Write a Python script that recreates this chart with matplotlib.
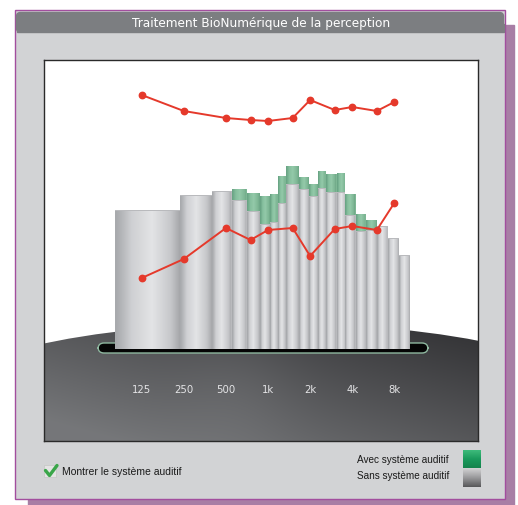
import numpy as np
import matplotlib
matplotlib.use('Agg')
import matplotlib.pyplot as plt
from matplotlib.patches import Rectangle, FancyBboxPatch, Ellipse
from matplotlib.colors import LinearSegmentedColormap
import matplotlib.transforms as mtransforms

# ---------------- data ----------------
title = 'Traitement BioNumérique de la perception'
tick_freqs = [125, 250, 500, 1000, 2000, 4000, 8000]
tick_labels = ['125', '250', '500', '1k', '2k', '4k', '8k']
curve_freqs = [125, 250, 500, 750, 1000, 1500, 2000, 3000, 4000, 6000, 8000]
tres_fort = [127, 119, 115.5, 114.5, 114, 115.5, 124.5, 119.5, 121, 119, 123.5]
seuil = [35.5, 45, 60.5, 54.5, 59.5, 60.5, 46.5, 60, 61.5, 59.5, 73]
band_edges = [80, 235, 400, 555, 710, 880, 1040, 1185, 1350, 1675, 1975, 2295,
              2615, 3090, 3580, 4225, 4980, 5975, 7160, 8590, 10300]
sans_systeme = [69.5, 77, 79, 74.5, 69, 62.5, 63.5, 73, 82.5, 80, 76.5, 80.5,
                78.5, 78.5, 67, 59, 59.5, 61.5, 55.5, 47]
avec_systeme = [69.5, 77, 79, 80, 78, 76.5, 77.5, 86.5, 91.5, 86, 82.5, 89,
                87.5, 88, 77.5, 67.5, 64.5, 61.5, 55.5, 47]
label_loud = 'Très fort'
label_threshold = 'Votre seuil\nauditif'
legend_labels = ['Avec système auditif', 'Sans système auditif']
checkbox_label = 'Montrer le système auditif'

# ---------------- figure ----------------
W, H = 518, 506
fig = plt.figure(figsize=(W / 100, H / 100), dpi=100)
fig.patch.set_facecolor('white')
bg = fig.add_axes([0, 0, 1, 1])
bg.set_xlim(0, W); bg.set_ylim(H, 0); bg.axis('off')
bg.set_autoscale_on(False)

# shadow + panel
bg.add_patch(Rectangle((28, 26), 486, 480, color='#a87ea5', zorder=0))
bg.add_patch(Rectangle((14.5, 10.5), 490, 489, facecolor='#d2d3d5',
                       edgecolor='#a24e9e', lw=1, zorder=1))
bg.add_patch(FancyBboxPatch((16.5, 13.5), 487, 19.5,
                            boxstyle='round,pad=0,rounding_size=4',
                            color='#7c7e81', zorder=2))
bg.add_patch(Rectangle((16.5, 25), 487, 8, color='#7c7e81', zorder=2))
bg.text(261, 23.5, title, color='white', fontsize=8.7, ha='center',
        va='center', family='DejaVu Sans', zorder=3)

# ---------------- plot axes ----------------
L, R, T, B = 44, 478, 61, 442
ax = fig.add_axes([L / W, (H - B) / H, (R - L) / W, (B - T) / H])
ax.set_xscale('log', base=2)
xlim = (25.0, 31740)
ylim = (-46, 144.5)
ax.set_xlim(*xlim); ax.set_ylim(*ylim)
ax.set_autoscale_on(False)
ax.set_facecolor('white')
for s in ax.spines.values():
    s.set_color('#2a2a2a'); s.set_linewidth(1.0)
ax.set_xticks([]); ax.set_yticks([])
ax.minorticks_off()
ax.tick_params(which='both', length=0, labelbottom=False, labelleft=False)

px = bg.transData  # pixel coordinates for decoration

# dark platform
ell = Ellipse((268, 404), 670, 160, transform=px, facecolor='none',
              edgecolor='none')
ax.add_patch(ell)
gy, gx = np.mgrid[0:1:200j, 0:1:300j]
t = np.clip(0.55 * (1 - gx) + 0.6 * gy - 0.05, 0, 1)
sheen = np.exp(-((gx - 0.45) ** 2) / 0.02 - ((gy - 0.55) ** 2) / 0.3) * 0.12
t = np.clip(t + sheen, 0, 1)
dark = np.array([0.19, 0.19, 0.20]); light = np.array([0.46, 0.465, 0.475])
img = dark + t[..., None] * (light - dark)
im = ax.imshow(img, extent=(L, R, B, 315), transform=px, aspect='auto',
               interpolation='bilinear', zorder=1)
im.set_clip_path(ell)

# tray
tray = FancyBboxPatch((98, 344), 330, 10,
                      boxstyle='round,pad=0,rounding_size=6', transform=px,
                      facecolor='#050505', edgecolor='#8fb8a0', lw=1.0,
                      zorder=2)
ax.add_patch(tray)

# bars: solid base + cylinder shading
lefts = band_edges[:-1]
widths = [band_edges[i + 1] - band_edges[i] for i in range(len(lefts))]
ax.bar(lefts, sans_systeme, width=widths, align='edge', color='#b9babd',
       edgecolor='none', zorder=2.5)
ax.bar(lefts, [a - g for a, g in zip(avec_systeme, sans_systeme)],
       bottom=sans_systeme, width=widths, align='edge', color='#7db694',
       edgecolor='none', zorder=2.5)
gray_cmap = LinearSegmentedColormap.from_list(
    'cyl', [(0, '#a8aaad'), (0.15, '#cfd0d3'), (0.42, '#e3e4e6'),
            (0.78, '#c5c6c9'), (1, '#a2a3a6')])
green_cmap = LinearSegmentedColormap.from_list(
    'gcyl', [(0, '#6aa585'), (0.2, '#86bf9e'), (0.45, '#93c9a9'),
             (0.8, '#7db694'), (1, '#66a080')])
grad = np.linspace(0, 1, 64)[None, :]
for i in range(len(sans_systeme)):
    l, r = band_edges[i], band_edges[i + 1]
    g, a = sans_systeme[i], avec_systeme[i]
    ax.imshow(grad, extent=(l, r, 0, g), aspect='auto', cmap=gray_cmap,
              interpolation='bilinear', zorder=3)
    if a > g:
        ax.imshow(grad, extent=(l, r, g, a), aspect='auto', cmap=green_cmap,
                  interpolation='bilinear', zorder=3)

# red curves
red = '#e5392b'
ax.plot(curve_freqs, tres_fort, color=red, lw=1.4, marker='o', ms=4.6,
        zorder=5, solid_capstyle='round')
ax.plot(curve_freqs, seuil, color=red, lw=1.4, marker='o', ms=4.6,
        zorder=5, solid_capstyle='round')

# frequency labels
trans = mtransforms.blended_transform_factory(ax.transData, ax.transAxes)
for f, lab in zip(tick_freqs, tick_labels):
    ax.text(f, (B - 390) / (B - T), lab, transform=trans, color='#e4e4e6',
            fontsize=7.3, ha='center', va='center', zorder=6)

ax.set_xlim(*xlim); ax.set_ylim(*ylim)

# curve labels
lab_col = '#c94a2c'
bg.text(51, 96, label_loud, color=lab_col, fontsize=7.5, ha='left',
        va='center', family='Liberation Sans', zorder=10)
bg.text(51, 279, label_threshold, color=lab_col, fontsize=7.5, ha='left',
        va='center', family='Liberation Sans', linespacing=1.25, zorder=10)

# checkbox
bg.add_patch(Rectangle((44, 466), 12, 12, facecolor='#e4e4e4',
                       edgecolor='#c8c8c8', lw=0.6, zorder=3))
bg.plot([45.5, 49.5, 57], [471.5, 476.5, 466.5], color='#3aa64a', lw=2.4,
        solid_capstyle='round', solid_joinstyle='round', zorder=4)
bg.text(62, 472, checkbox_label, fontsize=7.5, family='Liberation Sans',
        color='#1a1a1a', ha='left', va='center', zorder=4)

# legend
bg.text(449, 460.5, legend_labels[0], fontsize=7.2, family='Liberation Sans',
        color='#1a1a1a', ha='right', va='center', zorder=4)
bg.text(449, 476, legend_labels[1], fontsize=7.2, family='Liberation Sans',
        color='#1a1a1a', ha='right', va='center', zorder=4)
vg = np.linspace(0, 1, 32)[:, None]
green_sq = LinearSegmentedColormap.from_list('gs', ['#3dba7a', '#1a9a5c', '#15844d'])
gray_sq = LinearSegmentedColormap.from_list('ys', ['#d2d2d3', '#9a9a9c', '#58585a'])
bg.imshow(vg, extent=(463, 481, 469, 451), cmap=green_sq, aspect='auto',
          interpolation='bilinear', zorder=4)
bg.imshow(vg, extent=(463, 481, 488, 469), cmap=gray_sq, aspect='auto',
          interpolation='bilinear', zorder=4)
bg.set_xlim(0, W); bg.set_ylim(H, 0)

fig.savefig('out.png', dpi=100)
